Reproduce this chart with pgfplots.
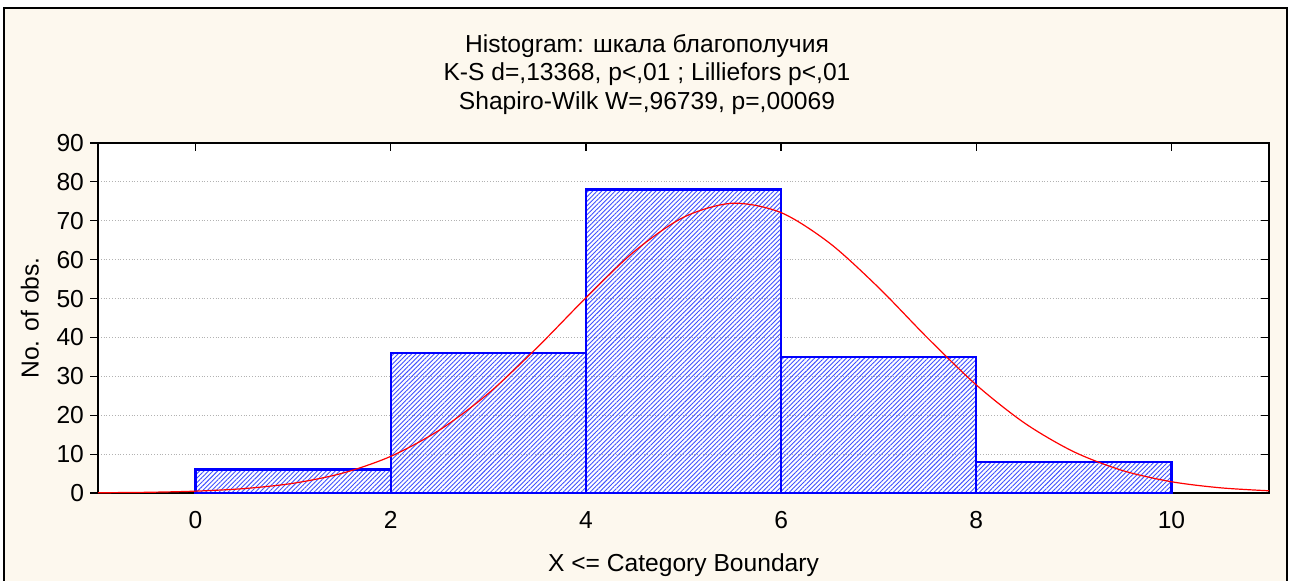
\documentclass[border=0pt]{standalone}
\usepackage{pgfplots}
\pgfplotsset{compat=1.18}
\usetikzlibrary{patterns.meta}
\usepackage{fontspec}
\setmainfont{Liberation Sans}
\definecolor{panel}{HTML}{FDF8EE}
\definecolor{hatch}{HTML}{3F50FF}
\newcommand{\lbl}{\fontsize{12.3}{14.5}\selectfont}

\begin{document}
\begin{tikzpicture}
% page and panel (1px = 0.5pt)
\useasboundingbox (0,0) rectangle (647pt,290pt);
\filldraw[fill=panel, draw=black, line width=1pt] (2pt,-5pt) rectangle (643.5pt,286pt);

% title lines
\node[anchor=base, font=\lbl] at (323.5pt,263.6pt) {Histogram: шкала благополучия};
\node[anchor=base, font=\lbl] at (323.5pt,249.6pt) {K-S d=,13368, p<,01 ; Lilliefors p<,01};
\node[anchor=base, font=\lbl] at (323.5pt,235.1pt) {Shapiro-Wilk W=,96739, p=,00069};

\begin{axis}[
    scale only axis,
    width=585.5pt, height=175pt,
    at={(49pt,43.5pt)}, anchor=south west,
    xmin=-1, xmax=11, ymin=0, ymax=90,
    xtick={0,2,4,6,8,10},
    ytick={0,10,20,30,40,50,60,70,80,90},
    tick align=inside,
    xtick pos=right, xticklabel pos=left,
    ytick pos=right, yticklabel pos=left,
    major tick length=4pt,
    axis background/.style={fill=white},
    axis line style={black, line width=0.6pt},
    tick style={black, line width=0.6pt},
    ymajorgrids,
    grid style={densely dotted, gray!60, line width=0.5pt},
    ticklabel style={font=\lbl},
    /pgf/number format/assume math mode=true,
    xticklabel style={yshift=-5.8pt},
    yticklabel style={xshift=-3.5pt},
    xlabel={X <= Category Boundary},
    xlabel style={font=\lbl, at={(axis description cs:0.5,0)}, anchor=base, yshift=-39.4pt},
    ylabel={No. of obs.},
    ylabel style={font=\lbl, at={(axis description cs:-0.0581,0.5)}, anchor=center},
]
% histogram bars (counts per class of width 2)
\addplot[ybar interval, draw=blue, line width=1.2pt,
    pattern={Lines[angle=45, distance=1.6pt, line width=0.45pt]}, pattern color=hatch]
    coordinates {(0,6) (2,36) (4,78) (6,35) (8,8) (10,0)};

% expected normal curve
\addplot[red, line width=0.6pt, smooth] coordinates {
    (-1,0.07) (-0.5,0.18) (0,0.48) (0.5,1.14) (1,2.50) (1.5,5.06)
    (2,9.43) (2.5,16.2) (3,25.6) (3.5,37.4) (4,50.2) (4.5,62.2)
    (5,70.9) (5.5,74.5) (6,72.1) (6.5,64.2) (7,52.8) (7.5,39.9)
    (8,27.8) (8.5,17.9) (9,10.6) (9.5,5.77) (10,2.90) (10.5,1.34) (11,0.57)
};
\end{axis}

% outward ticks on the left side
\begin{axis}[
    scale only axis,
    width=585.5pt, height=175pt,
    at={(49pt,43.5pt)}, anchor=south west,
    xmin=-1, xmax=11, ymin=0, ymax=90,
    xtick=\empty,
    ytick={0,10,20,30,40,50,60,70,80,90},
    yticklabel={\phantom{0}},
    ytick pos=left, tick align=outside,
    major tick length=4pt,
    axis line style={draw=none},
    tick style={black, line width=0.6pt},
]
\end{axis}
\end{tikzpicture}
\end{document}
